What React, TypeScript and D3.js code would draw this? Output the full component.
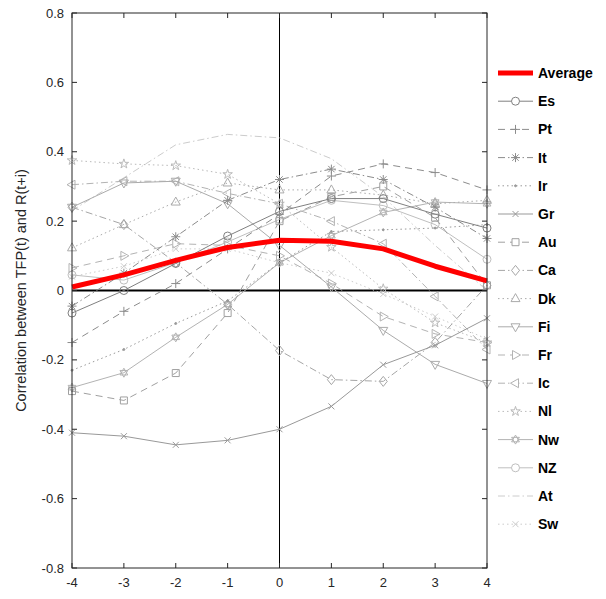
import React, { useEffect, useRef } from "react";
import * as d3 from "d3";

const LAGS = [-4, -3, -2, -1, 0, 1, 2, 3, 4];
const Y_TICKS = [-0.8, -0.6, -0.4, -0.2, 0, 0.2, 0.4, 0.6, 0.8];

const average = [0.01, 0.045, 0.087, 0.124, 0.145, 0.142, 0.12, 0.07, 0.028];
const es = [-0.065, 0.0, 0.078, 0.157, 0.228, 0.265, 0.265, 0.22, 0.18];
const pt = [-0.15, -0.06, 0.02, 0.12, 0.22, 0.33, 0.365, 0.34, 0.29];
const it = [-0.045, 0.05, 0.155, 0.26, 0.32, 0.35, 0.32, 0.24, 0.15];
const ir = [-0.23, -0.17, -0.095, -0.03, 0.08, 0.17, 0.175, 0.18, 0.19];
const gr = [-0.41, -0.42, -0.445, -0.432, -0.4, -0.334, -0.214, -0.158, -0.08];
const au = [-0.29, -0.317, -0.238, -0.065, 0.2, 0.27, 0.3, 0.21, 0.015];
const ca = [0.24, 0.19, 0.08, -0.04, -0.173, -0.257, -0.262, -0.15, 0.015];
const dk = [0.123, 0.19, 0.255, 0.31, 0.29, 0.29, 0.275, 0.25, 0.26];
const fi = [0.24, 0.31, 0.315, 0.25, 0.13, 0.01, -0.115, -0.213, -0.268];
const fr = [0.065, 0.1, 0.135, 0.13, 0.1, 0.02, -0.075, -0.125, -0.15];
const ic = [0.305, 0.315, 0.315, 0.28, 0.25, 0.2, 0.135, -0.017, -0.17];
const nl = [0.375, 0.365, 0.36, 0.335, 0.25, 0.125, 0.005, -0.093, -0.15];
const nw = [-0.28, -0.237, -0.135, -0.04, 0.08, 0.158, 0.225, 0.255, 0.25];
const nz = [0.045, 0.03, 0.08, 0.14, 0.205, 0.26, 0.245, 0.19, 0.09];
const at = [0.23, 0.325, 0.42, 0.45, 0.44, 0.38, 0.27, 0.13, 0.0];
const sw = [0.04, 0.07, 0.12, 0.12, 0.08, 0.05, -0.01, -0.075, -0.14];

type Series = { name: string; values: number[]; color: string; dash: string; marker: string };

const SERIES: Series[] = [
  { name: "Es", values: es, color: "#808080", dash: "", marker: "circle" },
  { name: "Pt", values: pt, color: "#8c8c8c", dash: "7,5", marker: "plus" },
  { name: "It", values: it, color: "#8c8c8c", dash: "7,3,1.5,3", marker: "asterisk" },
  { name: "Ir", values: ir, color: "#999999", dash: "1.5,3", marker: "point" },
  { name: "Gr", values: gr, color: "#999999", dash: "", marker: "x" },
  { name: "Au", values: au, color: "#a0a0a0", dash: "7,5", marker: "square" },
  { name: "Ca", values: ca, color: "#a6a6a6", dash: "7,3,1.5,3", marker: "diamond" },
  { name: "Dk", values: dk, color: "#ababab", dash: "1.5,3", marker: "triUp" },
  { name: "Fi", values: fi, color: "#ababab", dash: "", marker: "triDown" },
  { name: "Fr", values: fr, color: "#b3b3b3", dash: "7,5", marker: "triRight" },
  { name: "Ic", values: ic, color: "#b3b3b3", dash: "7,3,1.5,3", marker: "triLeft" },
  { name: "Nl", values: nl, color: "#bababa", dash: "1.5,3", marker: "star" },
  { name: "Nw", values: nw, color: "#b3b3b3", dash: "", marker: "hexagram" },
  { name: "NZ", values: nz, color: "#bfbfbf", dash: "", marker: "circle" },
  { name: "At", values: at, color: "#cccccc", dash: "7,3,1.5,3", marker: "none" },
  { name: "Sw", values: sw, color: "#cccccc", dash: "1.5,3", marker: "x" },
];

const W = 606;
const H = 599;
const M = { left: 72, right: 119, top: 13, bottom: 31 };

function markerPath(kind: string): string {
  const r = 4;
  switch (kind) {
    case "circle":
      return d3.symbol(d3.symbolCircle, Math.PI * r * r)()!;
    case "square":
      return `M${-3.5},${-3.5}h7v7h-7Z`;
    case "diamond":
      return `M0,${-5}L4,0L0,5L-4,0Z`;
    case "plus":
      return `M-4.5,0H4.5M0,-4.5V4.5`;
    case "x":
      return `M-3,-3L3,3M-3,3L3,-3`;
    case "asterisk":
      return `M-4.5,0H4.5M0,-4.5V4.5M-3.2,-3.2L3.2,3.2M-3.2,3.2L3.2,-3.2`;
    case "point":
      return d3.symbol(d3.symbolCircle, 3)()!;
    case "triUp":
      return `M0,-5L4.5,3L-4.5,3Z`;
    case "triDown":
      return `M0,5L4.5,-3L-4.5,-3Z`;
    case "triRight":
      return `M5,0L-3,4.5L-3,-4.5Z`;
    case "triLeft":
      return `M-5,0L3,4.5L3,-4.5Z`;
    case "star":
      return d3.symbol(d3.symbolStar, 28)()!;
    case "hexagram": {
      const p = (rot: number) =>
        d3.range(3).map((i) => {
          const a = rot + (i * 2 * Math.PI) / 3;
          return [4.5 * Math.sin(a), -4.5 * Math.cos(a)];
        });
      const a = p(0);
      const b = p(Math.PI);
      return `M${a.map((q) => q.join(",")).join("L")}ZM${b.map((q) => q.join(",")).join("L")}Z`;
    }
    default:
      return "";
  }
}

export default function App() {
  const ref = useRef<SVGSVGElement>(null);

  useEffect(() => {
    const svg = d3.select(ref.current);
    svg.selectAll("*").remove();

    const x = d3.scaleLinear().domain([-4, 4]).range([M.left, W - M.right]);
    const y = d3.scaleLinear().domain([-0.8, 0.8]).range([H - M.bottom, M.top]);
    const font = "'Liberation Sans', Arial, sans-serif";

    svg.append("rect").attr("width", W).attr("height", H).attr("fill", "#fff");

    // zero lines
    svg.append("line")
      .attr("x1", x(-4)).attr("x2", x(4)).attr("y1", y(0)).attr("y2", y(0))
      .attr("stroke", "#000").attr("stroke-width", 1.8);
    svg.append("line")
      .attr("x1", x(0)).attr("x2", x(0)).attr("y1", y(-0.8)).attr("y2", y(0.8))
      .attr("stroke", "#000").attr("stroke-width", 1);

    const line = d3.line<number>().x((_, i) => x(LAGS[i])).y((v) => y(v));

    // country series, last ones drawn first so darker lines sit on top
    [...SERIES].reverse().forEach((s) => {
      const g = svg.append("g");
      g.append("path")
        .attr("d", line(s.values)!)
        .attr("fill", "none")
        .attr("stroke", s.color)
        .attr("stroke-width", 1)
        .attr("stroke-dasharray", s.dash || null);
      if (s.marker !== "none") {
        const d = markerPath(s.marker);
        s.values.forEach((v, i) => {
          g.append("path")
            .attr("d", d)
            .attr("transform", `translate(${x(LAGS[i])},${y(v)})`)
            .attr("fill", s.marker === "point" ? s.color : "none")
            .attr("stroke", s.color)
            .attr("stroke-width", 1);
        });
      }
    });

    svg.append("path")
      .attr("d", line(average)!)
      .attr("fill", "none")
      .attr("stroke", "#ff0000")
      .attr("stroke-width", 5)
      .attr("stroke-linejoin", "round");

    // box and ticks
    svg.append("rect")
      .attr("x", x(-4)).attr("y", y(0.8))
      .attr("width", x(4) - x(-4)).attr("height", y(-0.8) - y(0.8))
      .attr("fill", "none").attr("stroke", "#262626").attr("stroke-width", 1);

    const tl = 5;
    LAGS.forEach((t) => {
      svg.append("line")
        .attr("x1", x(t)).attr("x2", x(t)).attr("y1", y(-0.8)).attr("y2", y(-0.8) - tl)
        .attr("stroke", "#262626");
      svg.append("line")
        .attr("x1", x(t)).attr("x2", x(t)).attr("y1", y(0.8)).attr("y2", y(0.8) + tl)
        .attr("stroke", "#262626");
      svg.append("text")
        .attr("x", x(t)).attr("y", y(-0.8) + 19)
        .attr("text-anchor", "middle")
        .attr("font-family", font).attr("font-size", 13).attr("fill", "#262626")
        .text(String(t));
    });
    Y_TICKS.forEach((t) => {
      svg.append("line")
        .attr("x1", x(-4)).attr("x2", x(-4) + tl).attr("y1", y(t)).attr("y2", y(t))
        .attr("stroke", "#262626");
      svg.append("line")
        .attr("x1", x(4)).attr("x2", x(4) - tl).attr("y1", y(t)).attr("y2", y(t))
        .attr("stroke", "#262626");
      svg.append("text")
        .attr("x", x(-4) - 8).attr("y", y(t) + 4.5)
        .attr("text-anchor", "end")
        .attr("font-family", font).attr("font-size", 13).attr("fill", "#262626")
        .text(t === 0 ? "0" : String(t));
    });

    svg.append("text")
      .attr("transform", `translate(26,${(y(0.8) + y(-0.8)) / 2}) rotate(-90)`)
      .attr("text-anchor", "middle")
      .attr("font-family", font).attr("font-size", 14.5).attr("fill", "#262626")
      .text("Correlation between TFP(t) and R(t+i)");

    // legend
    const lx = 498;
    const ly = 73;
    const step = 28.2;
    const leg = svg.append("g");
    const entries = [{ name: "Average", color: "#ff0000", dash: "", marker: "none", avg: true }, ...SERIES.map((s) => ({ ...s, avg: false }))];
    entries.forEach((e, i) => {
      const cy = ly + i * step;
      leg.append("line")
        .attr("x1", lx).attr("x2", lx + 35).attr("y1", cy).attr("y2", cy)
        .attr("stroke", e.color)
        .attr("stroke-width", e.avg ? 5 : 1)
        .attr("stroke-dasharray", e.dash || null);
      if (e.marker !== "none") {
        leg.append("path")
          .attr("d", markerPath(e.marker))
          .attr("transform", `translate(${lx + 17.5},${cy})`)
          .attr("fill", e.marker === "point" ? e.color : "#fff")
          .attr("stroke", e.color);
      }
      leg.append("text")
        .attr("x", lx + 40).attr("y", cy + 5)
        .attr("font-family", font).attr("font-size", 14).attr("font-weight", "bold")
        .attr("fill", "#000")
        .text(e.name);
    });
  }, []);

  return <svg ref={ref} width={W} height={H} style={{ display: "block", position: "absolute", left: 0, top: 0 }} />;
}
